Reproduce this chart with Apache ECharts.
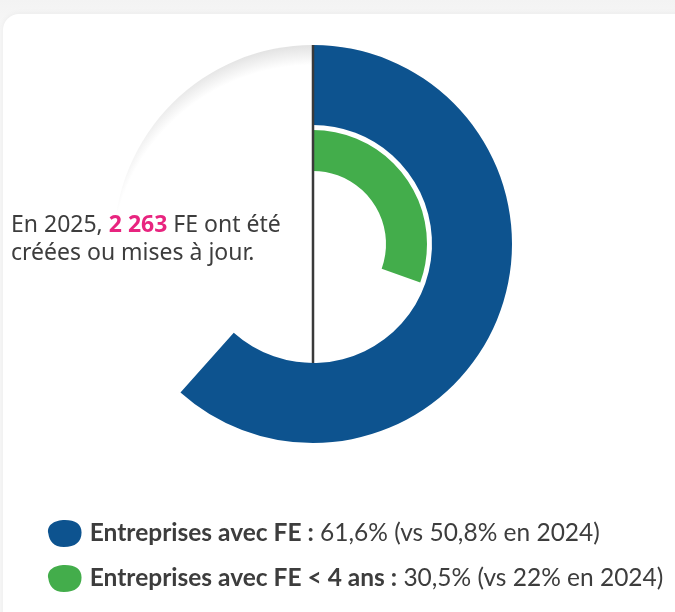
<!DOCTYPE html>
<html>
<head>
<meta charset="utf-8">
<script src="https://cdn.jsdelivr.net/npm/echarts@6/dist/echarts.min.js"></script>
<style>
  html, body { margin: 0; padding: 0; }
  body {
    width: 675px; height: 612px; overflow: hidden; position: relative;
    background: linear-gradient(#f3f3f3, #f7f7f7 30px, #f7f7f7);
  }
  .card {
    position: absolute; left: 3px; top: 14px; width: 720px; height: 640px;
    background: #fff; border-radius: 16px;
    box-shadow: 0 0 6px rgba(0, 0, 0, 0.05);
  }
  #chart { position: absolute; left: 0; top: 0; width: 675px; height: 612px; }
</style>
</head>
<body>
<div class="card"></div>
<div id="chart"></div>
<script>
// données
const categories = ["Entreprises avec FE", "Entreprises avec FE < 4 ans"];
const values2025 = [61.6, 30.5];
const values2024 = [50.8, 22];
const total = 100;
const nbFE = "2 263";
const annee = 2025;
const anneePrec = 2024;

const colors = ["#0d538f", "#43ad4b"];
// centre et rayons des anneaux
const center = [313, 244];
const rOuter = [119, 199];
const rInner = [73, 114];

const fmt = (v) => String(v).replace(".", ",");

const chart = echarts.init(document.getElementById("chart"));

const ringData = (i) => [
  { value: values2025[i], name: categories[i], itemStyle: { color: colors[i] } },
  { value: total - values2025[i], name: "reste" + i, itemStyle: { color: "rgba(0,0,0,0)" } }
];

const option = {
  animation: false,
  title: {
    left: 6,
    top: 206,
    text: "{a|En " + annee + ", }{b|" + nbFE + "}{a| FE ont été}\n{a|créées ou mises à jour.}",
    textStyle: {
      fontWeight: "normal",
      rich: {
        a: { fontFamily: "Noto Sans", fontSize: 23, fontWeight: "normal", color: "#3d3d3d", lineHeight: 28 },
        b: { fontFamily: "Noto Sans", fontSize: 23, fontWeight: "bold", color: "#e8247f", lineHeight: 28 }
      }
    }
  },
  legend: {
    orient: "vertical",
    left: 43,
    top: 515,
    itemWidth: 34,
    itemHeight: 27,
    itemGap: 18,
    selectedMode: false,
    icon: "path://M2,14C0,6 8,1 18,1C28,1 34,5 34,13C34,22 28,27 17,27C7,27 3,21 2,14Z",
    data: categories,
    formatter: (name) => {
      const i = categories.indexOf(name);
      return "{b|" + name + " :}{a| " + fmt(values2025[i]) + "% (vs " + fmt(values2024[i]) + "% en " + anneePrec + ")}";
    },
    textStyle: {
      rich: {
        a: { fontFamily: "Lato", fontSize: 24.5, color: "#3d3d3d", height: 27 },
        b: { fontFamily: "Lato", fontSize: 24.5, fontWeight: "bold", color: "#3d3d3d", height: 27, padding: [0, 0, 0, 3] }
      }
    }
  },
  graphic: [
    {
      type: "line",
      z: 10,
      shape: { x1: center[0], y1: center[1] - rOuter[1], x2: center[0], y2: center[1] + rOuter[0] },
      style: { stroke: "#3a3a3a", lineWidth: 2.5 }
    }
  ],
  series: [
    {
      // cercle de fond avec ombre légère
      type: "pie",
      silent: true,
      z: 1,
      center: center,
      radius: [0, rOuter[1]],
      label: { show: false },
      data: [{
        value: 1,
        itemStyle: {
          color: new echarts.graphic.RadialGradient(0.5, 0.56, 0.56, [
            { offset: 0, color: "#ffffff" },
            { offset: 0.91, color: "#ffffff" },
            { offset: 1, color: "#e2e2e2" }
          ])
        }
      }]
    },
    {
      type: "pie",
      silent: true,
      z: 2,
      center: center,
      radius: rOuter,
      startAngle: 90,
      clockwise: true,
      label: { show: false },
      data: ringData(0)
    },
    {
      type: "pie",
      silent: true,
      z: 2,
      center: center,
      radius: rInner,
      startAngle: 90,
      clockwise: true,
      label: { show: false },
      data: ringData(1)
    }
  ]
};

chart.setOption(option);
</script>
</body>
</html>
